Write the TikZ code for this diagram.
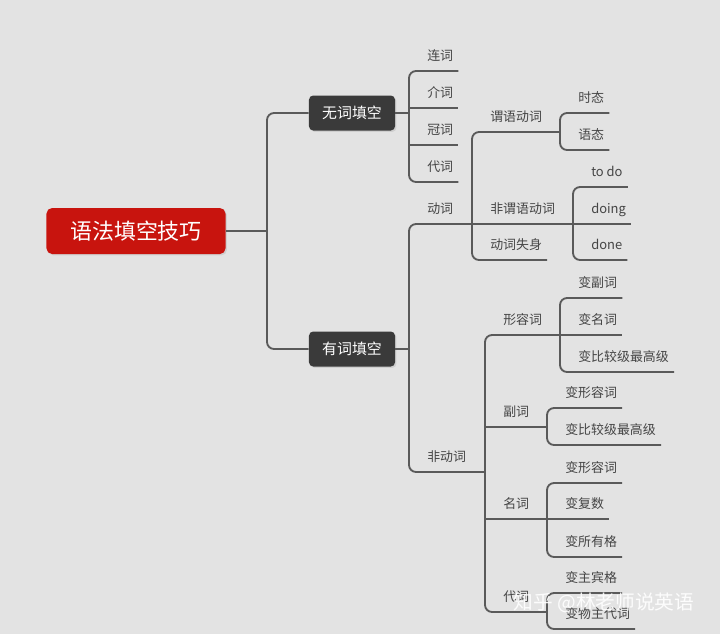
\documentclass[tikz,border=0pt]{standalone}
\usepackage{fontspec}
\newfontfamily\cjk{Noto Sans CJK SC}
\usetikzlibrary{positioning,shadows}
\definecolor{mapbg}{HTML}{E3E3E3}
\definecolor{mapred}{HTML}{C8140E}
\definecolor{mapdark}{HTML}{3A3A3A}
\definecolor{mapline}{HTML}{5A5A5A}
\definecolor{maptext}{HTML}{454545}

\begin{document}
\begin{tikzpicture}[x=0.025cm, y=-0.025cm,
  rootnode/.style={fill=mapred, rounded corners=4pt, text=white,
               minimum width=4.475cm, minimum height=1.15cm,
               font=\cjk\fontsize{15.6}{18}\selectfont,
               drop shadow={opacity=0.2, shadow xshift=1pt, shadow yshift=-1pt}},
  topic/.style={fill=mapdark, rounded corners=3pt, text=white,
              minimum width=2.15cm, minimum height=0.875cm,
              font=\cjk\fontsize{10.6}{13}\selectfont,
              drop shadow={opacity=0.2, shadow xshift=1pt, shadow yshift=-1pt}},
  leaf/.style={font=\cjk\fontsize{9.2}{11}\selectfont, text=maptext,
              anchor=south west, inner sep=0pt, text depth=7pt},
  edge/.style={line width=1.3pt, mapline},
  spine/.style={edge, rounded corners=5pt},
]
\fill[mapbg] (0,0) rectangle (720,634);

% root and first level
\node[rootnode] (root) at (136,231) {语法填空技巧};
\node[topic] (wu) at (352,113) {无词填空};
\node[topic] (you) at (352,349) {有词填空};
\coordinate (s-root) at (267,231);
\draw[edge] (root.east) -- (s-root);
\draw[spine] (wu.west) -| (s-root) |- (you.west);

% 无词填空
\coordinate (s-wu) at (409,113);
\node[leaf] (lian) at (427,71) {连词};
\node[leaf] (jie) at (427,108) {介词};
\node[leaf] (guan) at (427,145) {冠词};
\node[leaf] (dai) at (427,182) {代词};
\draw[edge] (wu.east) -- (s-wu);
\draw[spine] ([xshift=3.5pt]lian.south east) -| (s-wu) |- ([xshift=3.5pt]dai.south east);
\draw[edge] (s-wu |- jie.south) -- ([xshift=3.5pt]jie.south east);
\draw[edge] (s-wu |- guan.south) -- ([xshift=3.5pt]guan.south east);

% 有词填空
\coordinate (s-you) at (409,349);
\coordinate (s-dong) at (472,224);
\coordinate (s-fei) at (485,472);
\node[leaf] (dong) at (427,224) {动词};
\node[leaf] (fei) at (427,472) {非动词};
\draw[edge] (you.east) -- (s-you);
\draw[spine] (s-dong) -| (s-you) |- (s-fei);

% 动词
\coordinate (s-weiyu) at (560,132);
\coordinate (s-feiwei) at (573,224);
\node[leaf] (weiyu) at (490,132) {谓语动词};
\node[leaf] (feiwei) at (490,224) {非谓语动词};
\node[leaf] (shishen) at (490,260) {动词失身};
\draw[spine] (s-weiyu) -| (s-dong) |- ([xshift=3.5pt]shishen.south east);
\draw[edge] (s-dong) -- (s-feiwei);

\node[leaf] (shitai) at (578,113) {时态};
\node[leaf] (yutai) at (578,150) {语态};
\draw[spine] ([xshift=3.5pt]shitai.south east) -| (s-weiyu) |- ([xshift=3.5pt]yutai.south east);

\node[leaf] (todo) at (591,187) {to do};
\node[leaf] (doing) at (591,224) {doing};
\node[leaf] (done) at (591,260) {done};
\draw[spine] ([xshift=3.5pt]todo.south east) -| (s-feiwei) |- ([xshift=3.5pt]done.south east);
\draw[edge] (s-feiwei) -- ([xshift=3.5pt]doing.south east);

% 非动词
\coordinate (s-xing) at (560,335);
\coordinate (s-fu) at (547,427);
\coordinate (s-ming) at (547,519);
\coordinate (s-dai2) at (547,612);
\node[leaf] (xing) at (503,335) {形容词};
\node[leaf] (fu) at (503,427) {副词};
\node[leaf] (ming) at (503,519) {名词};
\node[leaf] (dai2) at (503,612) {代词};
\draw[spine] (s-xing) -| (s-fei) |- (s-dai2);
\draw[edge] (s-fei |- fu.south) -- (s-fu);
\draw[edge] (s-fei |- ming.south) -- (s-ming);

\node[leaf] (xing-a) at (578,298) {变副词};
\node[leaf] (xing-b) at (578,335) {变名词};
\node[leaf] (xing-c) at (578,372) {变比较级最高级};
\draw[spine] ([xshift=3.5pt]xing-a.south east) -| (s-xing) |- ([xshift=3.5pt]xing-c.south east);
\draw[edge] (s-xing) -- ([xshift=3.5pt]xing-b.south east);

\node[leaf] (fu-a) at (565,408) {变形容词};
\node[leaf] (fu-b) at (565,445) {变比较级最高级};
\draw[spine] ([xshift=3.5pt]fu-a.south east) -| (s-fu) |- ([xshift=3.5pt]fu-b.south east);

\node[leaf] (ming-a) at (565,483) {变形容词};
\node[leaf] (ming-b) at (565,519) {变复数};
\node[leaf] (ming-c) at (565,557) {变所有格};
\draw[spine] ([xshift=3.5pt]ming-a.south east) -| (s-ming) |- ([xshift=3.5pt]ming-c.south east);
\draw[edge] (s-ming) -- ([xshift=3.5pt]ming-b.south east);

\node[leaf] (dai-a) at (565,593) {变主宾格};
\node[leaf] (dai-b) at (565,629) {变物主代词};
\draw[spine] ([xshift=3.5pt]dai-a.south east) -| (s-dai2) |- ([xshift=3.5pt]dai-b.south east);

% watermark
\node[font=\cjk\fontsize{14}{16}\selectfont, text=white, opacity=0.9] (mark) at (604,603) {知乎 @林老师说英语};

\end{tikzpicture}
\end{document}
